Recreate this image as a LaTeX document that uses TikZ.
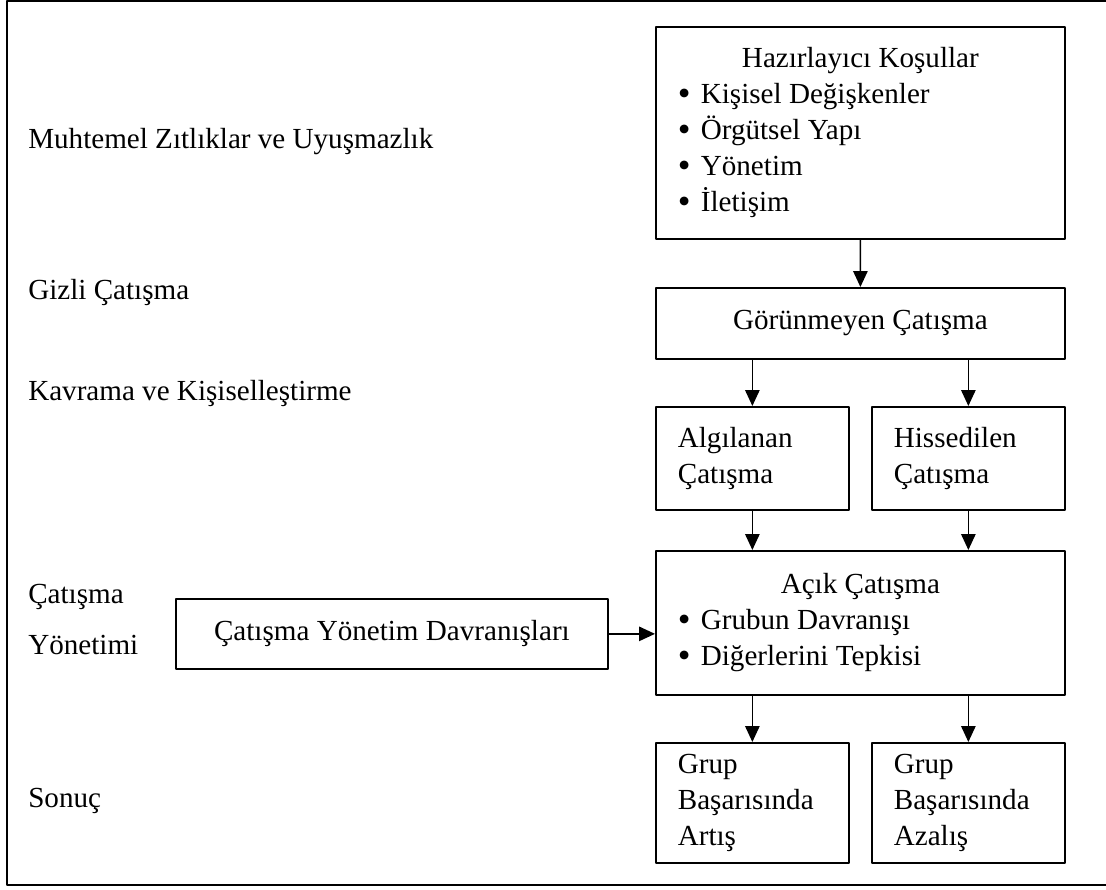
\documentclass[tikz,border=0pt]{standalone}
\usepackage{fontspec}
\usepackage{graphicx}
\setmainfont{Liberation Serif}
\usetikzlibrary{arrows.meta}
\newcommand\madde{\makebox[0.575cm][l]{\raisebox{-0.06em}{\scalebox{1.25}{\textbullet}}}}

\begin{document}
\begin{tikzpicture}[x=0.025cm,y=-0.025cm,line cap=round,line join=round,
  yazi/.style={font=\fontsize{20.7}{25.6}\selectfont},
  kutu/.style={yazi,draw,line width=1.2pt,anchor=north west,inner sep=0pt},
  solkutu/.style={kutu,align=flush left,inner xsep=0.55cm,text width=3.725cm,
    minimum height=#1},
  etiket/.style={yazi,anchor=base west,inner sep=0pt},
  pil/.style={line width=1.2pt,-{Triangle[length=0.4cm,width=0.36cm]}}]
  \useasboundingbox (0,0) rectangle (1106,889);
  \draw[line width=1.2pt] (1110,1) -- (7,1) -- (7,885) -- (1110,885);

  \node[etiket] (muht) at (28,148) {Muhtemel Zıtlıklar ve Uyuşmazlık};
  \node[etiket] (gizli) at (28,299) {Gizli Çatışma};
  \node[etiket] (kavr) at (28,400) {Kavrama ve Kişiselleştirme};
  \node[etiket] (yon1) at (28,603) {Çatışma};
  \node[etiket] (yon2) at (28,654) {Yönetimi};
  \node[etiket] (sonuc) at (28,807) {Sonuç};

  \node[kutu,align=flush left,inner xsep=0.55cm,text width=9.125cm,minimum height=5.3cm]
    (hazir) at (655,26) {\makebox[\linewidth][c]{Hazırlayıcı Koşullar}\\
      \madde Kişisel Değişkenler\\
      \madde Örgütsel Yapı\\
      \madde Yönetim\\
      \madde İletişim};
  \node[kutu,minimum width=10.225cm,minimum height=1.775cm]
    (gorun) at (655,287) {Görünmeyen Çatışma};
  \node[solkutu=2.575cm] (algi) at (655,406) {Algılanan\\Çatışma};
  \node[solkutu=2.575cm] (hiss) at (871,406) {Hissedilen\\Çatışma};
  \node[kutu,align=flush left,inner xsep=0.55cm,text width=9.125cm,minimum height=3.6cm]
    (acik) at (655,550) {\makebox[\linewidth][c]{Açık Çatışma}\\
      \madde Grubun Davranışı\\
      \madde Diğerlerini Tepkisi};
  \node[kutu,minimum width=10.8cm,minimum height=1.75cm]
    (ydav) at (175,598) {Çatışma Yönetim Davranışları};
  \node[solkutu=3cm] (artis) at (655,742) {Grup\\Başarısında\\Artış};
  \node[solkutu=3cm] (azal) at (871,742) {Grup\\Başarısında\\Azalış};

  \draw[pil] (hazir.south) -- (gorun.north);
  \draw[pil] (gorun.south -| algi) -- (algi.north);
  \draw[pil] (gorun.south -| hiss) -- (hiss.north);
  \draw[pil] (algi.south) -- (acik.north -| algi);
  \draw[pil] (hiss.south) -- (acik.north -| hiss);
  \draw[pil] (ydav.east) -- (ydav.east -| acik.west);
  \draw[pil] (acik.south -| artis) -- (artis.north);
  \draw[pil] (acik.south -| azal) -- (azal.north);
\end{tikzpicture}
\end{document}
